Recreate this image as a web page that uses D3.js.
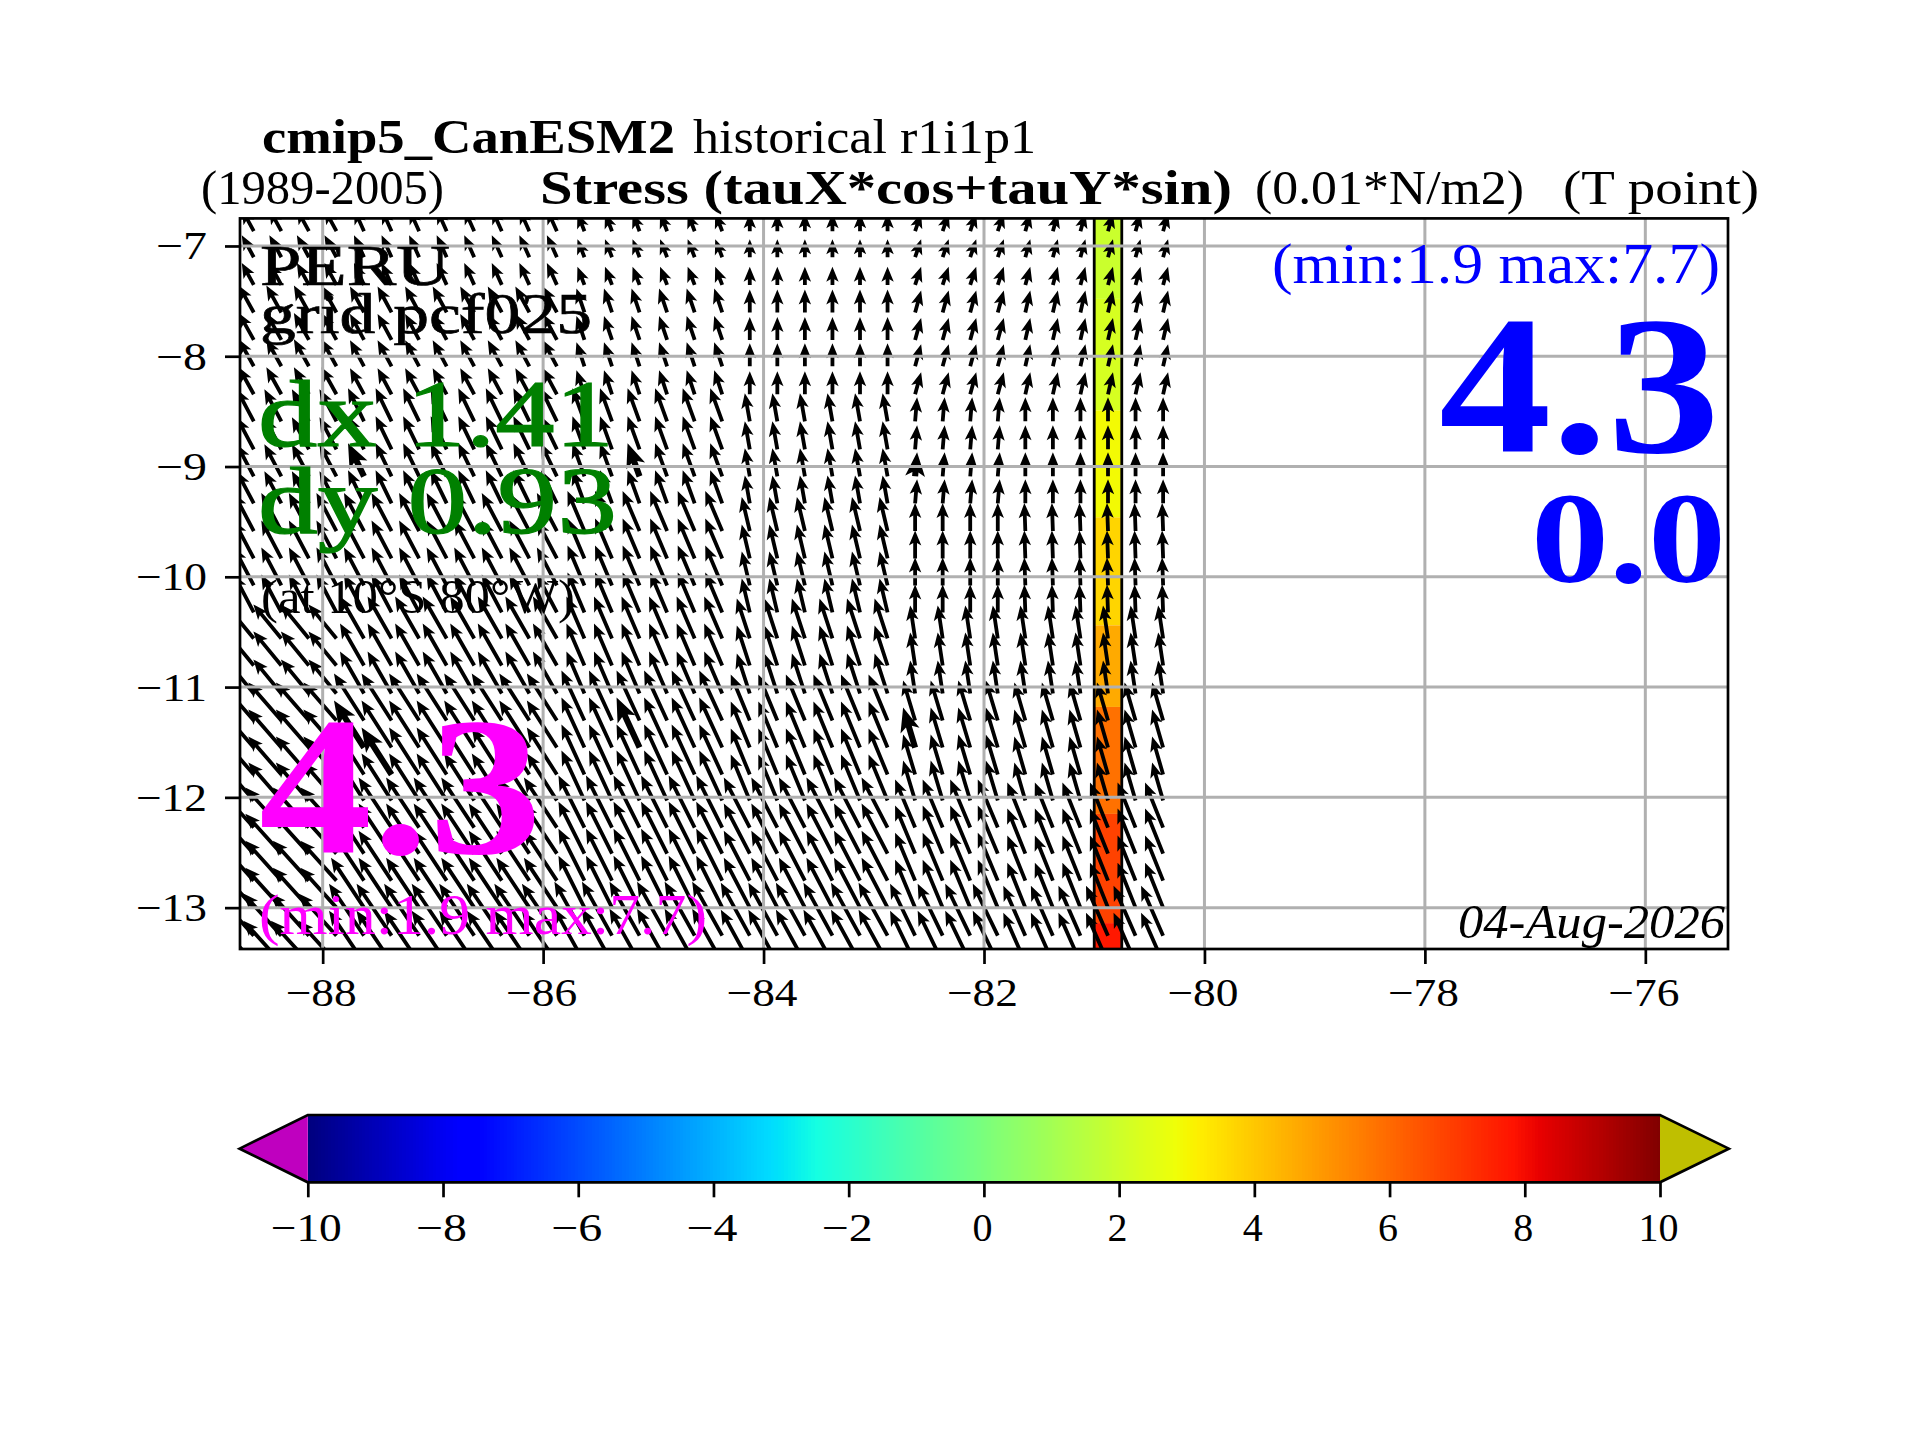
<!DOCTYPE html>
<html>
<head>
<meta charset="utf-8">
<script src="https://cdn.jsdelivr.net/npm/d3@7"></script>
<style>
  body { margin: 0; background: #fff; }
  text { font-family: "Liberation Serif", serif; }
</style>
</head>
<body>
<svg width="1920" height="1440"></svg>
<script>
// arrow tails, degrees
const lons = [-88.625, -88.375, -88.125, -87.875, -87.625, -87.375, -87.125, -86.875, -86.625,
  -86.375, -86.125, -85.875, -85.625, -85.375, -85.125, -84.875, -84.625, -84.375, -84.125,
  -83.875, -83.625, -83.375, -83.125, -82.875, -82.625, -82.375, -82.125, -81.875, -81.625,
  -81.375, -81.125, -80.875, -80.625, -80.375];
const lats = [-13.499, -13.254, -13.0, -12.755, -12.51, -12.274, -12.029, -11.793, -11.548,
  -11.303, -11.058, -10.804, -10.559, -10.323, -10.078, -9.833, -9.585, -9.334, -9.089,
  -8.844, -8.59, -8.345, -8.091, -7.852, -7.603, -7.353, -7.102, -6.866];

// which block of the coarse model grid each column / row falls in
const lonBlocks = [0, 0, 0, 0, 1, 1, 1, 1, 1, 1, 1, 1, 2, 2, 2, 2, 2, 2, 3, 3, 3, 3, 3, 3,
  4, 4, 4, 4, 5, 5, 5, 5, 5, 5];
const latBlocks = [7, 7, 6, 6, 6, 6, 5, 5, 5, 5, 4, 4, 4, 3, 3, 3, 3, 2, 2, 2, 2, 1, 1, 1, 1, 0, 0, 0];

// stress components, 0.01 N/m2, [lon block][lat block]
const tauX = [
  [-1.69, -2.11, -2.39, -2.82, -3.94, -4.65, -5.07, -5.35],
  [-1.41, -1.97, -2.25, -2.82, -3.38, -4.23, -4.65, -4.93],
  [-0.99, -1.13, -1.69, -2.39, -2.54, -3.24, -3.66, -4.23],
  [0, 0, -0.7, -1.13, -1.83, -2.68, -3.66, -4.08],
  [0.85, 0.85, 0.28, 0, -0.7, -1.69, -2.82, -3.52],
  [0.7, 0.7, 0, -0.14, -0.7, -1.55, -2.54, -3.1],
];
const tauY = [
  [3.1, 3.8, 4.51, 5.35, 4.79, 5.35, 5.63, 5.92],
  [3.1, 3.66, 4.65, 5.35, 5.92, 6.62, 7.04, 7.32],
  [2.54, 3.38, 4.65, 5.63, 5.92, 7.04, 7.32, 7.61],
  [2.54, 3.24, 3.94, 4.79, 5.63, 6.48, 7.04, 7.46],
  [2.54, 3.1, 3.38, 3.94, 4.65, 5.63, 6.76, 7.32],
  [2.54, 3.1, 3.38, 3.94, 4.65, 5.35, 6.34, 7.04],
];
// arrows that come out heavier in the picture [lon, lat]
const heavyArrows = [[-87.625, -9.089], [-85.125, -9.089], [-82.625, -9.089],
  [-87.625, -11.548], [-85.125, -11.548], [-82.625, -11.548], [-87.375, -11.793]];

// the one filled column, lon -81 to -80.75
const meshLons = [-81, -80.75];
const meshEdges = [-6.6, -7.48, -8.49, -9.46, -10.44, -11.18, -12.15, -13.14, -13.5];
const meshValues = [1.9, 2.2, 2.9, 3.7, 4.6, 5.8, 6.8, 7.7];

const xTicks = [-88, -86, -84, -82, -80, -78, -76];
const yTicks = [-7, -8, -9, -10, -11, -12, -13];
const barTicks = [-10, -8, -6, -4, -2, 0, 2, 4, 6, 8, 10];
const barStep = 0.05;
const barLevels = d3.range(-10, 10, barStep);

const left = 240, right = 1728, top_ = 218.4, bottom = 949;
const barLeft = 307.8, barRight = 1660, barTop = 1115, barBottom = 1182.3;
const barTipL = 239.6, barTipR = 1728.8;
const grey = "#b0b0b0";
const fs = 40;

const svg = d3.select("svg");
const x = d3.scaleLinear().domain([-88.75, -75.25]).range([left, right]);
const y = d3.scaleLinear().domain([-13.375, -6.75]).range([bottom, top_]);
const arrowLen = d3.scaleLinear().domain([0, 1]).range([0, 7.1]);

// matplotlib jet
const jetR = d3.scaleLinear().domain([0, 0.35, 0.66, 0.89, 1]).range([0, 0, 1, 1, 0.5]);
const jetG = d3.scaleLinear().domain([0, 0.125, 0.375, 0.64, 0.91, 1]).range([0, 0, 1, 1, 0, 0]);
const jetB = d3.scaleLinear().domain([0, 0.11, 0.34, 0.65, 1]).range([0.5, 1, 1, 0, 0]);
const valueT = d3.scaleLinear().domain([-10, 10]).range([0, 1]);
const jet = (v) => {
  const t = valueT(v);
  return d3.rgb(jetR(t) * 255, jetG(t) * 255, jetB(t) * 255).formatHex();
};

svg.append("defs").append("clipPath").attr("id", "axclip")
  .append("rect").attr("x", left).attr("y", top_).attr("width", right - left).attr("height", bottom - top_);

const plot = svg.append("g").attr("clip-path", "url(#axclip)");

// filled column
plot.selectAll("rect.cell").data(meshValues).join("rect").attr("class", "cell")
  .attr("x", x(meshLons[0]))
  .attr("width", x(meshLons[1]) - x(meshLons[0]))
  .attr("y", (d, i) => y(meshEdges[i]))
  .attr("height", (d, i) => y(meshEdges[i + 1]) - y(meshEdges[i]))
  .attr("fill", (d) => jet(d));
plot.append("rect")
  .attr("x", x(meshLons[0])).attr("width", x(meshLons[1]) - x(meshLons[0]))
  .attr("y", y(meshEdges[0])).attr("height", y(meshEdges[8]) - y(meshEdges[0]))
  .attr("fill", "none").attr("stroke", "#000").attr("stroke-width", 2.8);

// quiver, tail pivot
function arrowPath(len, k) {
  const hw = 1.9 * k, hh = 6.2 * k, hl = 15 * k, notch = 12.5 * k;
  return `M0,${-hw}L${len - notch},${-hw}L${len - hl},${-hh}L${len},0L${len - hl},${hh}L${len - notch},${hw}L0,${hw}Z`;
}
const arrows = [];
lats.forEach((lat, j) => {
  lons.forEach((lon, i) => {
    const u = tauX[lonBlocks[i]][latBlocks[j]];
    const v = tauY[lonBlocks[i]][latBlocks[j]];
    arrows.push({ lon, lat, u, v, k: 1 });
  });
});
heavyArrows.forEach(([lon, lat]) => {
  const a = arrows.find((d) => d.lon === lon && d.lat === lat);
  a.k = 1.6;
});
plot.append("g").selectAll("path").data(arrows).join("path")
  .attr("d", (d) => arrowPath(arrowLen(Math.hypot(d.u, d.v)), d.k))
  .attr("transform", (d) => {
    const ang = (Math.atan2(-d.v, d.u) * 180) / Math.PI;
    return `translate(${x(d.lon)},${y(d.lat)}) rotate(${ang})`;
  })
  .attr("fill", "#000");

// grid goes over the arrows
const grid = svg.append("g").attr("clip-path", "url(#axclip)");
grid.selectAll("line.gx").data(xTicks).join("line").attr("class", "gx")
  .attr("x1", (d) => x(d)).attr("x2", (d) => x(d)).attr("y1", top_).attr("y2", bottom)
  .attr("stroke", grey).attr("stroke-width", 3);
grid.selectAll("line.gy").data(yTicks).join("line").attr("class", "gy")
  .attr("y1", (d) => y(d)).attr("y2", (d) => y(d)).attr("x1", left).attr("x2", right)
  .attr("stroke", grey).attr("stroke-width", 3);

// widths of the original's wider tick labels
const tickWidth = (s) => (s.length - (s[0] === "\u2212" ? 1 : 0)) * 20 + (s[0] === "\u2212" ? 31 : 0);

function styleAxis(g) {
  g.select(".domain").remove();
  g.selectAll(".tick line").attr("stroke", "#000").attr("stroke-width", 2.7);
  g.selectAll(".tick text")
    .attr("font-family", "Liberation Serif").attr("font-size", fs).attr("fill", "#000")
    .attr("lengthAdjust", "spacingAndGlyphs")
    .attr("textLength", function () { return tickWidth(this.textContent); });
}

svg.append("g").attr("transform", `translate(0,${bottom})`)
  .call(d3.axisBottom(x).tickValues(xTicks).tickSize(15).tickFormat(d3.format("d")))
  .call(styleAxis)
  .call((g) => g.selectAll(".tick text").attr("y", 56.7).attr("dy", 0).attr("x", -2));

svg.append("g").attr("transform", `translate(${left},0)`)
  .call(d3.axisLeft(y).tickValues(yTicks).tickSize(15).tickFormat(d3.format("d")))
  .call(styleAxis)
  .call((g) => g.selectAll(".tick text").attr("x", -33).attr("dy", 13));

// spines
svg.append("rect").attr("x", left).attr("y", top_).attr("width", right - left).attr("height", bottom - top_)
  .attr("fill", "none").attr("stroke", "#000").attr("stroke-width", 2.7);

// colorbar
const barX = d3.scaleLinear().domain([-10, 10]).range([barLeft, barRight]);
const barMid = (barTop + barBottom) / 2;
svg.append("g").selectAll("rect").data(barLevels).join("rect")
  .attr("x", (d) => barX(d))
  .attr("width", (d) => barX(d + barStep) - barX(d) + 0.6)
  .attr("y", barTop).attr("height", barBottom - barTop)
  .attr("fill", (d) => jet(d))
  .attr("shape-rendering", "crispEdges");
svg.append("path").attr("d", `M${barLeft},${barTop}L${barTipL},${barMid}L${barLeft},${barBottom}Z`)
  .attr("fill", "#bf00bf");
svg.append("path").attr("d", `M${barRight},${barTop}L${barTipR},${barMid}L${barRight},${barBottom}Z`)
  .attr("fill", "#bfbf00");
svg.append("path")
  .attr("d", `M${barLeft},${barTop}L${barRight},${barTop}L${barTipR},${barMid}L${barRight},${barBottom}L${barLeft},${barBottom}L${barTipL},${barMid}Z`)
  .attr("fill", "none").attr("stroke", "#000").attr("stroke-width", 2.7).attr("stroke-linejoin", "miter");

svg.append("g").attr("transform", `translate(0,${barBottom})`)
  .call(d3.axisBottom(barX).tickValues(barTicks).tickSize(15).tickFormat(d3.format("d")))
  .call(styleAxis)
  .call((g) => g.selectAll(".tick text").attr("y", 58.4).attr("dy", 0).attr("x", -2));

// text, start x / right edge / baseline / size
function label(s, x0, x1, base, size, fill, opts) {
  const o = opts || {};
  svg.append("text").text(s)
    .attr("x", x0).attr("y", base)
    .attr("font-size", size).attr("fill", fill)
    .attr("font-weight", o.bold ? "bold" : "normal")
    .attr("font-style", o.italic ? "italic" : "normal")
    .attr("stroke", o.heavy ? fill : "none")
    .attr("stroke-width", o.heavy || 0)
    .attr("textLength", x1 - x0).attr("lengthAdjust", "spacingAndGlyphs");
}

label("cmip5_CanESM2", 262, 675, 153, 48, "#000", { bold: true });
label("historical r1i1p1", 693, 1036, 153, 48, "#000");
label("(1989-2005)", 201, 444, 204, 48, "#000");
label("Stress (tauX*cos+tauY*sin)", 540, 1232, 204, 48, "#000", { bold: true });
label("(0.01*N/m2)", 1255, 1524, 204, 48, "#000");
label("(T point)", 1563, 1759, 204, 48, "#000");

label("PERU", 260, 450, 285, 58, "#000", { heavy: 0.7 });
label("grid pcf025", 260, 592, 333, 58, "#000", { heavy: 0.7 });
label("dx 1.41", 258, 614, 446, 96, "#008000", { heavy: 1.2 });
label("dy 0.93", 258, 617, 533, 96, "#008000", { heavy: 1.2 });
label("(at 10\u00b0S 80\u00b0W)", 261, 575, 613, 48, "#000");
label("4.3", 259, 542, 853, 198, "#ff00ff", { bold: true });
label("(min:1.9 max:7.7)", 259, 707, 934, 58, "#ff00ff");

label("(min:1.9 max:7.7)", 1272, 1720, 283, 58, "#0000ff");
label("4.3", 1439, 1720, 452, 198, "#0000ff", { bold: true });
label("0.0", 1531, 1726, 582, 130, "#0000ff", { bold: true });
label("04-Aug-2026", 1458, 1725, 938, 48, "#000", { italic: true });
</script>
</body>
</html>
